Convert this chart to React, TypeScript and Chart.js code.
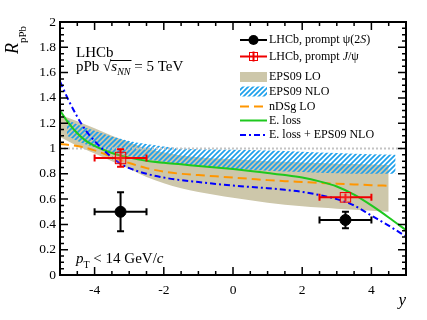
import React, { useEffect, useRef } from "react";
import { Chart, registerables } from "chart.js";
Chart.register(...registerables);

// ---------- data ----------
const X_TICKS = [-4, -2, 0, 2, 4];
const Y_TICKS = [0, 0.2, 0.4, 0.6, 0.8, 1, 1.2, 1.4, 1.6, 1.8, 2];

// measured points (rapidity bins)
const RAP_CENTER = [-3.25, 3.25];
const RAP_HALF = [0.75, 0.75];
const PSI2S_R = [0.5, 0.435];
const PSI2S_ERR = [0.155, 0.065];
const JPSI_R = [0.925, 0.614];
const JPSI_STAT = [0.07, 0.03];
const JPSI_SYST = [0.045, 0.038];
const BOX_HALF = 0.15;

// EPS09 LO band
const TAN_X = [-5, -4.5, -4, -3.5, -3, -2.5, -2, -1.5, -1, -0.5, 0, 0.5, 1, 1.5, 2, 2.5, 3, 3.5, 4, 4.5];
const TAN_LO = [1.09, 1.02, 0.96, 0.9, 0.84, 0.775, 0.725, 0.685, 0.657, 0.633, 0.61, 0.59, 0.572, 0.556, 0.544, 0.533, 0.524, 0.515, 0.507, 0.5];
const TAN_HI = [1.265, 1.215, 1.16, 1.1, 1.05, 1.0, 0.97, 0.945, 0.93, 0.92, 0.915, 0.907, 0.9, 0.895, 0.89, 0.885, 0.88, 0.877, 0.874, 0.87];

// EPS09 NLO band
const HATCH_X = [-4.8, -4.5, -4, -3.5, -3, -2.5, -2, -1.5, -1, 0, 1, 2, 3, 4, 4.7];
const HATCH_HI = [1.23, 1.19, 1.14, 1.095, 1.06, 1.035, 1.015, 1.0, 0.995, 0.99, 0.985, 0.975, 0.965, 0.955, 0.95];
const HATCH_LO = [1.1, 1.06, 1.01, 0.97, 0.94, 0.915, 0.895, 0.875, 0.86, 0.84, 0.825, 0.815, 0.805, 0.8, 0.8];

// nDSg LO
const NDSG_X = [-5, -4.5, -4, -3.5, -3, -2.5, -2, -1.5, -1, -0.5, 0, 0.5, 1, 1.5, 2, 2.5, 3, 3.5, 4, 4.5];
const NDSG_R = [1.035, 1.02, 0.985, 0.935, 0.885, 0.845, 0.817, 0.8, 0.79, 0.78, 0.77, 0.76, 0.75, 0.742, 0.735, 0.728, 0.722, 0.716, 0.71, 0.705];

// energy loss curves
const CURVE_X = [-5, -4.75, -4.5, -4.25, -4, -3.75, -3.5, -3.25, -3, -2.5, -2, -1.5, -1, -0.5, 0, 0.5, 1, 1.5, 2, 2.5, 3, 3.5, 4, 4.5, 5];
const ELOSS_R = [1.3, 1.2, 1.12, 1.06, 1.02, 0.99, 0.965, 0.945, 0.928, 0.903, 0.887, 0.875, 0.862, 0.85, 0.837, 0.822, 0.806, 0.79, 0.77, 0.74, 0.7, 0.635, 0.55, 0.455, 0.355];
const ELOSS_EPS_R = [1.53, 1.38, 1.25, 1.14, 1.06, 0.99, 0.93, 0.88, 0.845, 0.8, 0.77, 0.75, 0.735, 0.72, 0.707, 0.696, 0.686, 0.673, 0.657, 0.632, 0.6, 0.55, 0.47, 0.39, 0.305];

const UNITY_X = [-5, 5];
const UNITY_R = [1, 1];

// ---------- style ----------
const SERIF = "'Liberation Serif', 'Times New Roman', serif";
const TAN = "rgb(205,199,170)";
const HATCH = "rgb(30,160,235)";
const ORANGE = "rgb(255,150,0)";
const GREEN = "rgb(30,200,30)";
const BLUE = "rgb(0,0,255)";
const RED = "rgb(240,0,0)";

const zip = (xs: number[], ys: number[]) => xs.map((x, i) => ({ x, y: ys[i] }));

type Run = [string, string, number];
function drawRuns(ctx: CanvasRenderingContext2D, x: number, y: number, runs: Run[]) {
  let cx = x;
  for (const [t, f, dy] of runs) {
    ctx.font = f;
    ctx.fillText(t, cx, y + dy);
    cx += ctx.measureText(t).width;
  }
  return cx;
}

export default function App() {
  const ref = useRef<HTMLCanvasElement>(null);

  useEffect(() => {
    const canvas = ref.current!;
    const ctx0 = canvas.getContext("2d")!;

    const pc = document.createElement("canvas");
    pc.width = 5;
    pc.height = 5;
    const p = pc.getContext("2d")!;
    p.strokeStyle = HATCH;
    p.lineWidth = 1.7;
    p.beginPath();
    p.moveTo(-1, 6);
    p.lineTo(6, -1);
    p.moveTo(-1, 1);
    p.lineTo(1, -1);
    p.moveTo(4, 6);
    p.lineTo(6, 4);
    p.stroke();
    const pattern = ctx0.createPattern(pc, "repeat")!;

    const overlay = {
      id: "overlay",
      afterDatasetsDraw(chart: any) {
        const ctx: CanvasRenderingContext2D = chart.ctx;
        const xs = chart.scales.x;
        const ys = chart.scales.y;
        const X = (v: number) => xs.getPixelForValue(v);
        const Y = (v: number) => ys.getPixelForValue(v);
        const ca = chart.chartArea;
        ctx.save();

        // error bars
        const cap = 3.5;
        const drawErr = (color: string, rs: number[], errs: number[], caps: boolean[]) => {
          ctx.strokeStyle = color;
          ctx.lineWidth = 2;
          RAP_CENTER.forEach((c, i) => {
            const x0 = X(c - RAP_HALF[i]);
            const x1 = X(c + RAP_HALF[i]);
            const yc = Y(rs[i]);
            const yt = Y(rs[i] + errs[i]);
            const yb = Y(rs[i] - errs[i]);
            ctx.beginPath();
            ctx.moveTo(x0, yc);
            ctx.lineTo(x1, yc);
            ctx.moveTo(x0, yc - cap);
            ctx.lineTo(x0, yc + cap);
            ctx.moveTo(x1, yc - cap);
            ctx.lineTo(x1, yc + cap);
            ctx.moveTo(X(c), yt);
            ctx.lineTo(X(c), yb);
            if (caps[i]) {
              ctx.moveTo(X(c) - cap, yt);
              ctx.lineTo(X(c) + cap, yt);
              ctx.moveTo(X(c) - cap, yb);
              ctx.lineTo(X(c) + cap, yb);
            }
            ctx.stroke();
          });
        };
        drawErr("#000", PSI2S_R, PSI2S_ERR, [true, true]);
        drawErr(RED, JPSI_R, JPSI_STAT, JPSI_STAT.map((s, i) => s > JPSI_SYST[i]));
        // systematic boxes
        RAP_CENTER.forEach((c, i) => {
          const x0 = X(c - BOX_HALF);
          const x1 = X(c + BOX_HALF);
          const y0 = Y(JPSI_R[i] + JPSI_SYST[i]);
          const y1 = Y(JPSI_R[i] - JPSI_SYST[i]);
          ctx.fillStyle = "rgba(255,120,120,0.25)";
          ctx.fillRect(x0, y0, x1 - x0, y1 - y0);
          ctx.strokeStyle = RED;
          ctx.lineWidth = 1;
          ctx.strokeRect(x0, y0, x1 - x0, y1 - y0);
        });

        // frame
        ctx.strokeStyle = "#000";
        ctx.lineWidth = 2;
        ctx.strokeRect(ca.left, ca.top, ca.right - ca.left, ca.bottom - ca.top);

        // inward ticks
        ctx.lineWidth = 1.5;
        ctx.beginPath();
        for (let k = 0; k <= 40; k++) {
          const v = k * 0.05;
          const major = k % 4 === 0;
          const len = major ? 8 : 4;
          const py = Y(v);
          ctx.moveTo(ca.left, py);
          ctx.lineTo(ca.left + len, py);
          ctx.moveTo(ca.right, py);
          ctx.lineTo(ca.right - len, py);
        }
        for (let k = 0; k <= 20; k++) {
          const v = -5 + k * 0.5;
          const major = X_TICKS.includes(v);
          const len = major ? 8 : 4;
          const px = X(v);
          ctx.moveTo(px, ca.bottom);
          ctx.lineTo(px, ca.bottom - len);
          ctx.moveTo(px, ca.top);
          ctx.lineTo(px, ca.top + len);
        }
        ctx.stroke();

        // texts
        ctx.fillStyle = "#000";
        ctx.textBaseline = "alphabetic";
        ctx.textAlign = "left";
        const f = (s: number, it = false) => `${it ? "italic " : ""}${s}px ${SERIF}`;
        drawRuns(ctx, 76, 57, [["LHCb", f(15), 0]]);
        const a = drawRuns(ctx, 76, 71, [["pPb ", f(15), 0], ["\u221A", f(15), 0]]);
        const b = drawRuns(ctx, a, 71, [["s", f(15, true), 0], ["NN", f(10, true), 4]]);
        ctx.lineWidth = 1;
        ctx.beginPath();
        ctx.moveTo(a - 1, 60.5);
        ctx.lineTo(b + 1, 60.5);
        ctx.stroke();
        drawRuns(ctx, b, 71, [[" = 5 TeV", f(15), 0]]);

        drawRuns(ctx, 76, 263, [
          ["p", f(15, true), 0],
          ["T", f(10), 5],
          [" < 14 GeV/", f(15), 0],
          ["c", f(15, true), 0],
        ]);

        // axis titles
        ctx.save();
        ctx.translate(18, 54);
        ctx.rotate(-Math.PI / 2);
        drawRuns(ctx, 0, 0, [["R", f(18, true), 0], ["pPb", f(11), 8]]);
        ctx.restore();
        ctx.textAlign = "right";
        ctx.font = f(17, true);
        ctx.fillText("y", 406, 305);
        ctx.textAlign = "left";

        // legend
        const lx0 = 240;
        const lx1 = 267;
        const lm = (lx0 + lx1) / 2;
        const tx = 269;
        const rows = [40, 56.5, 77, 91.5, 106.5, 120.5, 135];
        ctx.textBaseline = "middle";
        const lf = 12;
        // psi(2S)
        ctx.strokeStyle = "#000";
        ctx.lineWidth = 2;
        ctx.beginPath();
        ctx.moveTo(lx0, rows[0]);
        ctx.lineTo(lx1, rows[0]);
        ctx.stroke();
        ctx.fillStyle = "#000";
        ctx.beginPath();
        ctx.arc(lm, rows[0], 5, 0, Math.PI * 2);
        ctx.fill();
        drawRuns(ctx, tx, rows[0], [["LHCb, prompt \u03C8(2", f(lf), 0], ["S", f(lf, true), 0], [")", f(lf), 0]]);
        // J/psi
        ctx.strokeStyle = RED;
        ctx.lineWidth = 2;
        ctx.beginPath();
        ctx.moveTo(lx0, rows[1]);
        ctx.lineTo(lx1, rows[1]);
        ctx.moveTo(lm, rows[1] - 5);
        ctx.lineTo(lm, rows[1] + 5);
        ctx.stroke();
        ctx.lineWidth = 1;
        ctx.strokeRect(lm - 4, rows[1] - 4, 8, 8);
        ctx.fillStyle = "#000";
        drawRuns(ctx, tx, rows[1], [["LHCb, prompt ", f(lf), 0], ["J", f(lf, true), 0], ["/\u03C8", f(lf), 0]]);
        // EPS09 LO
        ctx.fillStyle = TAN;
        ctx.fillRect(lx0, rows[2] - 5, lx1 - lx0, 10);
        ctx.fillStyle = "#000";
        drawRuns(ctx, tx, rows[2], [["EPS09 LO", f(lf), 0]]);
        // EPS09 NLO
        ctx.fillStyle = pattern;
        ctx.fillRect(lx0, rows[3] - 5, lx1 - lx0, 10);
        ctx.fillStyle = "#000";
        drawRuns(ctx, tx, rows[3], [["EPS09 NLO", f(lf), 0]]);
        // lines
        const lineRow = (y: number, color: string, dash: number[], label: string) => {
          ctx.strokeStyle = color;
          ctx.lineWidth = 2;
          ctx.setLineDash(dash);
          ctx.beginPath();
          ctx.moveTo(lx0, y);
          ctx.lineTo(lx1, y);
          ctx.stroke();
          ctx.setLineDash([]);
          ctx.fillStyle = "#000";
          drawRuns(ctx, tx, y, [[label, f(lf), 0]]);
        };
        lineRow(rows[4], ORANGE, [9, 5], "nDSg LO");
        lineRow(rows[5], GREEN, [], "E. loss");
        lineRow(rows[6], BLUE, [6, 3, 2, 3], "E. loss + EPS09 NLO");

        ctx.restore();
      },
    };

    const line = (data: any, color: string, dash: number[], order: number) => ({
      type: "line" as const,
      data,
      borderColor: color,
      borderWidth: 2,
      borderDash: dash,
      pointRadius: 0,
      fill: false,
      cubicInterpolationMode: "monotone" as const,
      order,
    });

    const chart = new Chart(canvas, {
      type: "line",
      data: {
        datasets: [
          { ...line(zip(TAN_X, TAN_LO), "rgba(0,0,0,0)", [], 10), borderWidth: 1 },
          { ...line(zip(TAN_X, TAN_HI), "rgba(0,0,0,0)", [], 10), borderWidth: 1, fill: "-1", backgroundColor: TAN },
          { ...line(zip(HATCH_X, HATCH_LO), "rgba(0,0,0,0)", [], 9), borderWidth: 1 },
          { ...line(zip(HATCH_X, HATCH_HI), "rgba(0,0,0,0)", [], 9), borderWidth: 1, fill: "-1", backgroundColor: pattern },
          { ...line(zip(UNITY_X, UNITY_R), "rgb(195,195,195)", [2, 2], 8), cubicInterpolationMode: "default" },
          line(zip(NDSG_X, NDSG_R), ORANGE, [9, 5], 5),
          line(zip(CURVE_X, ELOSS_R), GREEN, [], 4),
          line(zip(CURVE_X, ELOSS_EPS_R), BLUE, [6, 3, 2, 3], 3),
          {
            type: "scatter" as const,
            data: zip(RAP_CENTER, PSI2S_R),
            pointRadius: 5.5,
            pointBackgroundColor: "#000",
            pointBorderColor: "#000",
            showLine: false,
            order: 1,
          },
        ] as any,
      },
      options: {
        responsive: false,
        animation: false,
        devicePixelRatio: 1,
        layout: { padding: { top: 22, right: 21, left: 0, bottom: 0 } },
        plugins: { legend: { display: false }, tooltip: { enabled: false } },
        scales: {
          x: {
            type: "linear",
            min: -5,
            max: 5,
            grid: { display: false, drawTicks: false },
            border: { display: false },
            afterBuildTicks: (s: any) => {
              s.ticks = X_TICKS.map((v) => ({ value: v }));
            },
            afterFit: (s: any) => {
              s.height = 45;
            },
            ticks: {
              font: { family: SERIF, size: 13.5 },
              color: "#000",
              padding: 7,
              maxRotation: 0,
              autoSkip: false,
              callback: (v: any) => String(v),
            },
          },
          y: {
            type: "linear",
            min: 0,
            max: 2,
            grid: { display: false, drawTicks: false },
            border: { display: false },
            afterBuildTicks: (s: any) => {
              s.ticks = Y_TICKS.map((v) => ({ value: v }));
            },
            afterFit: (s: any) => {
              s.width = 60;
            },
            ticks: {
              font: { family: SERIF, size: 13.5 },
              color: "#000",
              padding: 4,
              autoSkip: false,
              callback: (v: any) => String(+Number(v).toFixed(1)),
            },
          },
        },
      },
      plugins: [overlay],
    });

    return () => chart.destroy();
  }, []);

  return (
    <div style={{ position: "absolute", left: 0, top: 0, width: 427, height: 320 }}>
      <canvas ref={ref} width={427} height={320} style={{ display: "block" }} />
    </div>
  );
}
